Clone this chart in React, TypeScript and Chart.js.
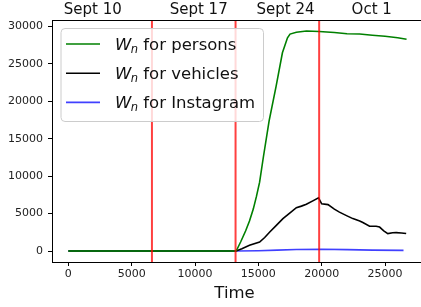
import React, { useEffect, useRef } from "react";
import { Chart, registerables } from "chart.js";
Chart.register(...registerables);

const personsTime = [0, 13250, 13600, 14000, 14300, 14600, 14850, 15100, 15400, 15850, 16400, 16900, 17300, 17500, 18000, 18800, 19800, 21000, 22000, 23000, 24000, 25000, 26000, 26700];
const personsValues = [0, 0, 1200, 2700, 4000, 5600, 7300, 9200, 12600, 17400, 22000, 26500, 28500, 29000, 29250, 29400, 29350, 29200, 29050, 29000, 28850, 28700, 28500, 28300];

const vehiclesTime = [0, 13250, 13700, 14300, 15100, 15500, 15900, 16400, 16940, 17500, 18000, 18400, 18790, 19300, 19750, 20000, 20500, 21000, 21400, 22000, 22460, 23000, 23250, 23780, 24300, 24570, 24900, 25220, 25600, 25880, 26300, 26670];
const vehiclesValues = [0, 0, 300, 760, 1200, 1800, 2540, 3400, 4330, 5100, 5800, 6000, 6240, 6700, 7100, 6300, 6200, 5600, 5200, 4700, 4330, 4000, 3800, 3300, 3300, 3200, 2700, 2330, 2450, 2460, 2400, 2330];

const instagramTime = [0, 13250, 15000, 16500, 18000, 20000, 22000, 24000, 26460];
const instagramValues = [0, 0, 40, 120, 200, 230, 180, 120, 80];

const weekLines = [6600, 13200, 19800];
const topLabels = ["Sept 10", "Sept 17", "Sept 24", "Oct 1"];
const topLabelPos = [1930, 10290, 17150, 23950];
const xTicks = [0, 5000, 10000, 15000, 20000, 25000];
const yTicks = [0, 5000, 10000, 15000, 20000, 25000, 30000];
const seriesNames = ["persons", "vehicles", "Instagram"];
const seriesColors = ["#008000", "#000000", "rgba(0,0,255,0.75)"];

const FONT = "'DejaVu Sans', sans-serif";

function pts(t: number[], v: number[]) {
  return t.map((x, i) => ({ x, y: v[i] }));
}

const overlay = {
  id: "overlay",
  afterDatasetsDraw(chart: any) {
    const { ctx, chartArea: a, scales } = chart;
    const xs = scales.x;
    ctx.save();
    ctx.strokeStyle = "rgba(255,0,0,0.75)";
    ctx.lineWidth = 2;
    weekLines.forEach((v) => {
      const px = xs.getPixelForValue(v);
      ctx.beginPath();
      ctx.moveTo(px, a.top);
      ctx.lineTo(px, a.bottom);
      ctx.stroke();
    });
    ctx.strokeStyle = "#000";
    ctx.lineWidth = 1;
    ctx.beginPath();
    ctx.moveTo(a.left, a.top + 0.5);
    ctx.lineTo(a.right, a.top + 0.5);
    ctx.stroke();
    ctx.fillStyle = "#111";
    ctx.font = `15px ${FONT}`;
    ctx.textAlign = "center";
    ctx.textBaseline = "alphabetic";
    topLabels.forEach((l, i) => {
      ctx.fillText(l, xs.getPixelForValue(topLabelPos[i]), 13.5);
    });
    ctx.font = `16.5px ${FONT}`;
    ctx.fillText("Time", (a.left + a.right - 4) / 2, 298);
    const lx = 61, ly = 28.5, lw = 202.5, lh = 93;
    ctx.fillStyle = "rgba(255,255,255,0.8)";
    ctx.strokeStyle = "#cccccc";
    ctx.lineWidth = 1;
    ctx.beginPath();
    (ctx as any).roundRect(lx, ly, lw, lh, 4);
    ctx.fill();
    ctx.stroke();
    seriesNames.forEach((n, i) => {
      const y = 44 + i * 29.2;
      ctx.strokeStyle = seriesColors[i];
      ctx.lineWidth = 1.6;
      ctx.beginPath();
      ctx.moveTo(66, y);
      ctx.lineTo(100, y);
      ctx.stroke();
      ctx.fillStyle = "#111";
      ctx.textAlign = "left";
      ctx.font = `italic 16.5px ${FONT}`;
      ctx.fillText("W", 115, y + 5.7);
      const ww = ctx.measureText("W").width;
      ctx.font = `italic 11.5px ${FONT}`;
      ctx.fillText("n", 115 + ww - 0.5, y + 8.7);
      ctx.font = `16.5px ${FONT}`;
      ctx.fillText("for " + n, 143.3, y + 5.7);
    });
    ctx.restore();
  },
};

export default function App() {
  const ref = useRef<HTMLCanvasElement>(null);
  useEffect(() => {
    document.body.style.margin = "0";
    const chart = new Chart(ref.current!, {
      type: "line",
      data: {
        datasets: [
          { label: "persons", data: pts(personsTime, personsValues), borderColor: seriesColors[0], borderWidth: 1.6, pointRadius: 0, tension: 0 },
          { label: "vehicles", data: pts(vehiclesTime, vehiclesValues), borderColor: seriesColors[1], borderWidth: 1.6, pointRadius: 0, tension: 0 },
          { label: "Instagram", data: pts(instagramTime, instagramValues), borderColor: seriesColors[2], borderWidth: 1.6, pointRadius: 0, tension: 0 },
        ],
      },
      options: {
        animation: false,
        responsive: false,
        layout: { padding: { top: 20, left: 0, right: 0, bottom: 0 } },
        plugins: { legend: { display: false }, tooltip: { enabled: false } },
        scales: {
          x: {
            type: "linear",
            min: -1290,
            max: 27840,
            afterFit: (s: any) => { s.height = 45; },
            afterBuildTicks: (s: any) => { s.ticks = xTicks.map((v) => ({ value: v })); },
            grid: { display: true, drawOnChartArea: false, drawTicks: true, tickLength: 4, color: "#000" },
            border: { display: true, color: "#000", width: 1 },
            ticks: { color: "#222", font: { family: FONT, size: 11 }, padding: 2, maxRotation: 0, autoSkip: false, callback: (v: any) => String(v) },
          },
          y: {
            type: "linear",
            min: -1470,
            max: 30880,
            afterFit: (s: any) => { s.width = 52; },
            afterBuildTicks: (s: any) => { s.ticks = yTicks.map((v) => ({ value: v })); },
            grid: { display: true, drawOnChartArea: false, drawTicks: true, tickLength: 4, color: "#000" },
            border: { display: true, color: "#000", width: 1 },
            ticks: { color: "#222", font: { family: FONT, size: 11 }, padding: 5, autoSkip: false, callback: (v: any) => String(v) },
          },
        },
      },
      plugins: [overlay],
    });
    return () => chart.destroy();
  }, []);
  return (
    <div style={{ position: "absolute", left: 0, top: 0 }}>
      <canvas ref={ref} width={421} height={307} style={{ display: "block", background: "#fff" }} />
    </div>
  );
}
